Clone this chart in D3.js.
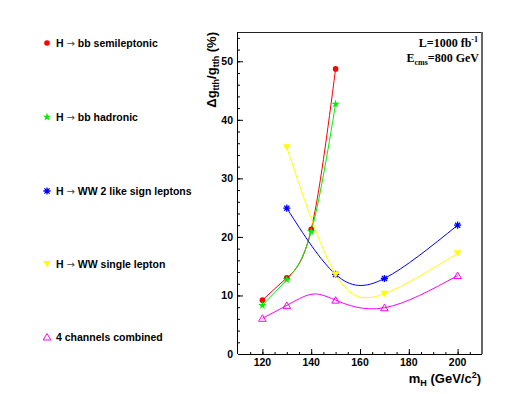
<!DOCTYPE html>
<html><head><meta charset="utf-8">
<script src="https://cdn.jsdelivr.net/npm/d3@7"></script>
<style>body{margin:0;background:#fff}svg{display:block}</style>
</head><body>
<svg id="c" width="514" height="394"></svg>
<script>
// ---- data ----
const semilepX = [120, 130, 140, 150];
const semilepY = [9.2, 13.0, 21.3, 48.7];
const hadronX = [120, 130, 140, 150];
const hadronY = [8.3, 12.7, 20.9, 42.7];
const likeSignX = [130, 150, 170, 200];
const likeSignY = [24.9, 13.6, 12.9, 22.0];
const singleLepX = [130, 150, 170, 200];
const singleLepY = [35.3, 13.6, 10.3, 17.2];
const combinedX = [120, 130, 150, 170, 200];
const combinedY = [6.1, 8.3, 9.2, 7.9, 13.4];
// the combined curve also passes through this unmarked value read at 140
const combinedCurveX = [120, 130, 140, 150, 170, 200];
const combinedCurveY = [6.1, 8.3, 10.2, 9.2, 7.9, 13.4];
const legendNames = [["H", "bb semileptonic"], ["H", "bb hadronic"], ["H", "WW 2 like sign leptons"], ["H", "WW single lepton"], ["4 channels combined"]];
const xTickValues = [120, 140, 160, 180, 200];
const yTickValues = [0, 10, 20, 30, 40, 50];

const svg = d3.select("#c");
svg.append("rect").attr("width",514).attr("height",394).attr("fill","#fff");

const pL = 238, pR = 482, pT = 32, pB = 354;
const x = d3.scaleLinear().domain([110, 210]).range([pL, pR]);
const y = d3.scaleLinear().domain([0, 55]).range([pB, pT]);

const series = [
  {xs: semilepX, ys: semilepY, color: "#ff0000", marker: "circle"},
  {xs: hadronX, ys: hadronY, color: "#00ee00", marker: "star"},
  {xs: likeSignX, ys: likeSignY, color: "#0000ff", marker: "asterisk"},
  {xs: singleLepX, ys: singleLepY, color: "#ffff00", marker: "tridown"},
  {xs: combinedX, ys: combinedY, cx: combinedCurveX, cy: combinedCurveY, color: "#ff00ff", marker: "triup"}
];

// frame
svg.append("line").attr("x1",pL).attr("x2",pR).attr("y1",pT+0.5).attr("y2",pT+0.5).attr("stroke","#222").attr("stroke-width",1);
svg.append("line").attr("x1",pR).attr("x2",pR).attr("y1",pT).attr("y2",pB).attr("stroke","#666").attr("stroke-width",2);

// axes with inward ticks
const font = "'Liberation Sans', Arial, sans-serif";
const xAxisMinor = d3.axisTop(x).tickValues(d3.range(115, 210, 5)).tickSize(2).tickFormat("");
const xAxisMajor = d3.axisTop(x).tickValues(xTickValues).tickSize(5).tickFormat("");
svg.append("g").attr("transform",`translate(0,${pB})`).call(xAxisMinor).call(g=>g.select(".domain").remove()).selectAll("line").attr("stroke","#000");
const gx = svg.append("g").attr("transform",`translate(0,${pB})`).call(xAxisMajor);
gx.select(".domain").attr("d", `M${pL},0.5H${pR}`).attr("stroke","#000");
gx.selectAll("line").attr("stroke","#000");
svg.append("g").selectAll("text").data(xTickValues).join("text")
  .attr("x", d=>x(d)).attr("y", 366).attr("text-anchor","middle")
  .attr("font-family",font).attr("font-weight","bold").attr("font-size",10.5).text(d=>d);

const yAxisMinor = d3.axisRight(y).tickValues(d3.range(2, 55, 2)).tickSize(2).tickFormat("");
const yAxisMajor = d3.axisRight(y).tickValues(yTickValues).tickSize(5).tickFormat("");
svg.append("g").attr("transform",`translate(${pL},0)`).call(yAxisMinor).call(g=>g.select(".domain").remove()).selectAll("line").attr("stroke","#000");
const gy = svg.append("g").attr("transform",`translate(${pL},0)`).call(yAxisMajor);
gy.select(".domain").attr("d", `M-0.5,${pT}V${pB}`).attr("stroke","#000");
gy.selectAll("line").attr("stroke","#000");
svg.append("g").selectAll("text").data(yTickValues).join("text")
  .attr("x", 233).attr("y", d=>y(d)+3.8).attr("text-anchor","end")
  .attr("font-family",font).attr("font-weight","bold").attr("font-size",10.5).text(d=>d);

// axis titles
const yt = svg.append("text").attr("transform","translate(216,32) rotate(-90)").attr("text-anchor","end")
  .attr("font-family",font).attr("font-weight","bold").attr("font-size",13);
yt.append("tspan").text("\u0394g");
yt.append("tspan").attr("font-size",9).attr("dy",3).text("tth");
yt.append("tspan").attr("dy",-3).text("/g");
yt.append("tspan").attr("font-size",9).attr("dy",3).text("tth");
yt.append("tspan").attr("dy",-3).text(" (%)");

const xt = svg.append("text").attr("x",481).attr("y",383).attr("text-anchor","end")
  .attr("font-family",font).attr("font-weight","bold").attr("font-size",13);
xt.append("tspan").text("m");
xt.append("tspan").attr("font-size",9).attr("dy",3).text("H");
xt.append("tspan").attr("dy",-3).text(" (GeV/c");
xt.append("tspan").attr("font-size",9).attr("dy",-5).text("2");
xt.append("tspan").attr("dy",5).text(")");

// info text
const serif = "'Liberation Serif', 'Times New Roman', serif";
const t1 = svg.append("text").attr("x",478).attr("y",47).attr("text-anchor","end")
  .attr("font-family",serif).attr("font-weight","bold").attr("font-size",12);
t1.append("tspan").text("L=1000 fb");
t1.append("tspan").attr("font-size",8).attr("dy",-5).text("-1");
const t2 = svg.append("text").attr("x",479).attr("y",62).attr("text-anchor","end")
  .attr("font-family",serif).attr("font-weight","bold").attr("font-size",12);
t2.append("tspan").text("E");
t2.append("tspan").attr("font-size",8).attr("dy",3).text("cms");
t2.append("tspan").attr("dy",-3).text("=800 GeV");

// markers
function drawMarker(g, type, color, cx, cy) {
  if (type === "circle") {
    g.append("circle").attr("cx",cx).attr("cy",cy).attr("r",2.8).attr("fill",color);
  } else if (type === "star") {
    g.append("path").attr("transform",`translate(${cx},${cy})`).attr("d", d3.symbol(d3.symbolStar, 22)()).attr("fill",color);
  } else if (type === "asterisk") {
    const r = 3.6, q = r*0.72;
    g.append("path").attr("transform",`translate(${cx},${cy})`)
      .attr("d",`M${-r},0H${r}M0,${-r}V${r}M${-q},${-q}L${q},${q}M${-q},${q}L${q},${-q}`)
      .attr("fill","none").attr("stroke",color).attr("stroke-width",1.3);
  } else if (type === "tridown") {
    g.append("path").attr("d",`M${cx-3.8},${cy-3}L${cx+3.8},${cy-3}L${cx},${cy+3.5}Z`).attr("fill",color);
  } else if (type === "triup") {
    g.append("path").attr("d",`M${cx-3.8},${cy+3}L${cx+3.8},${cy+3}L${cx},${cy-3.5}Z`).attr("fill","none").attr("stroke",color).attr("stroke-width",1);
  }
}

const line = d3.line().x(d=>x(d[0])).y(d=>y(d[1])).curve(d3.curveNatural);
const plot = svg.append("g");
series.forEach(s => {
  const cxs = s.cx || s.xs, cys = s.cy || s.ys;
  const pts = cxs.map((v,i)=>[v, cys[i]]);
  plot.append("path").attr("d", line(pts)).attr("fill","none").attr("stroke",s.color).attr("stroke-width",1);
});
series.forEach(s => {
  s.xs.forEach((v,i)=>drawMarker(plot, s.marker, s.color, x(v), y(s.ys[i])));
});

// legend
const legY = [43, 117, 191, 264, 337];
series.forEach((s,i) => {
  drawMarker(svg, s.marker, s.color, 47, legY[i]);
  const t = svg.append("text").attr("x",56).attr("y",legY[i]+4).attr("font-family",font).attr("font-weight","bold")
    .attr("font-size",10.5).attr("fill","#000");
  const nm = legendNames[i];
  if (nm.length === 2) {
    t.append("tspan").text(nm[0] + " ");
    t.append("tspan").attr("font-family","'DejaVu Sans', sans-serif").attr("font-weight","normal").attr("font-size",10).attr("fill","#444").text("\u2192");
    t.append("tspan").text(" " + nm[1]);
  } else {
    t.append("tspan").text(nm[0]);
  }
});
</script>
</body></html>
